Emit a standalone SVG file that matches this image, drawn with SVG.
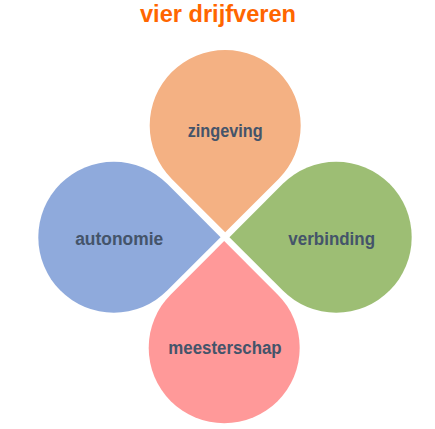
<svg xmlns="http://www.w3.org/2000/svg" width="435" height="429" viewBox="0 0 435 429">
  <defs>
    <style>
      .title { font-family: "Liberation Sans", Arial, sans-serif; font-weight: bold; font-size: 24.5px; fill: #FF6600; }
      .label { font-family: "Liberation Sans", Arial, sans-serif; font-weight: bold; font-size: 18px; fill: #44546A; }
    </style>
    <path id="drop" d="M -53.39 53.39 A 75.5 75.5 0 1 1 53.39 53.39 L 0 106.77 Z"/>
  </defs>
  <rect width="435" height="429" fill="#FFFFFF"/>
  <text class="title" x="218" y="21.5" text-anchor="middle" textLength="156" lengthAdjust="spacingAndGlyphs">vier drijfveren</text>
  <g id="zingeving">
    <use href="#drop" transform="translate(225.2,125.5)" fill="#F4B183"/>
    <text class="label" x="225.2" y="137" text-anchor="middle" textLength="75" lengthAdjust="spacingAndGlyphs">zingeving</text>
  </g>
  <g id="verbinding">
    <use href="#drop" transform="translate(336.2,237.2) rotate(90)" fill="#9DBE74"/>
    <text class="label" x="331.7" y="244.5" text-anchor="middle" textLength="86.7" lengthAdjust="spacingAndGlyphs">verbinding</text>
  </g>
  <g id="meesterschap">
    <use href="#drop" transform="translate(224.2,347.8) rotate(180)" fill="#FF9999"/>
    <text class="label" x="225" y="353.5" text-anchor="middle" textLength="113.3" lengthAdjust="spacingAndGlyphs">meesterschap</text>
  </g>
  <g id="autonomie">
    <use href="#drop" transform="translate(113.8,237.2) rotate(-90)" fill="#8FAADC"/>
    <text class="label" x="119.2" y="244.5" text-anchor="middle" textLength="88" lengthAdjust="spacingAndGlyphs">autonomie</text>
  </g>
  <g id="connectors"/>
</svg>
